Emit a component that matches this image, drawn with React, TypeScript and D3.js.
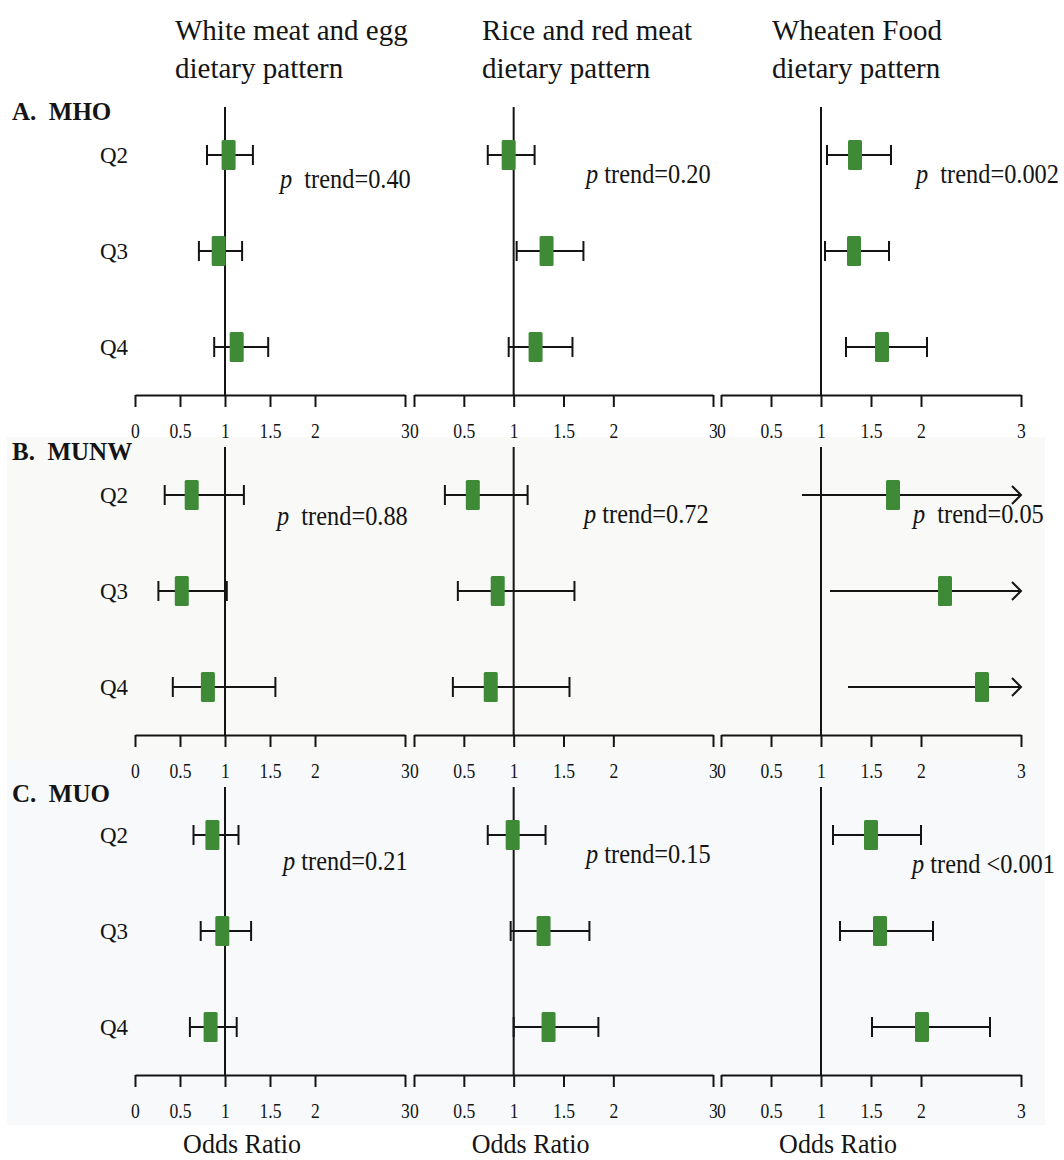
import React, { useEffect, useRef } from "react";
import * as d3 from "d3";

const patterns = ["White meat and egg", "Rice and red meat", "Wheaten Food"];
const groups = ["A.  MHO", "B.  MUNW", "C.  MUO"];
const quartiles = ["Q2", "Q3", "Q4"];
const tickValues = [0, 0.5, 1, 1.5, 2, 3];

// odds ratios per pattern (outer) and quartile Q2..Q4 (inner)
const mhoOR = [[1.04, 0.93, 1.13], [0.95, 1.33, 1.22], [1.34, 1.33, 1.61]];
const mhoLow = [[0.80, 0.71, 0.88], [0.74, 1.03, 0.95], [1.06, 1.04, 1.25]];
const mhoHigh = [[1.31, 1.19, 1.48], [1.21, 1.70, 1.59], [1.70, 1.68, 2.06]];

const munwOR = [[0.63, 0.52, 0.81], [0.59, 0.84, 0.77], [1.72, 2.24, 2.61]];
const munwLow = [[0.33, 0.26, 0.42], [0.31, 0.44, 0.39], [0.81, 1.09, 1.27]];
// null = upper limit runs off the axis (drawn as arrow)
const munwHigh = [[1.21, 1.02, 1.56], [1.14, 1.61, 1.56], [null, null, null]];

const muoOR = [[0.86, 0.97, 0.84], [0.99, 1.30, 1.35], [1.50, 1.59, 2.01]];
const muoLow = [[0.65, 0.73, 0.61], [0.74, 0.97, 1.00], [1.12, 1.19, 1.51]];
const muoHigh = [[1.15, 1.29, 1.13], [1.32, 1.76, 1.85], [2.00, 2.12, 2.69]];

const pTrends = [
  ["  trend=0.40", " trend=0.20", "  trend=0.002"],
  ["  trend=0.88", " trend=0.72", "  trend=0.05"],
  [" trend=0.21", " trend=0.15", " trend <0.001"],
];

const groupData = [
  { or: mhoOR, lo: mhoLow, hi: mhoHigh },
  { or: munwOR, lo: munwLow, hi: munwHigh },
  { or: muoOR, lo: muoLow, hi: muoHigh },
];

// layout
const colRanges = [[135, 405], [414, 713], [721, 1021]];
const panelTops = [107, 447, 787];
const panelH = 288;
const titleX = [175, 482, 772];
const labelBase = [120, 460, 802];
const pPos = [
  [[280, 188], [586, 183], [916, 183]],
  [[277, 525], [584, 523], [913, 523]],
  [[283, 870], [586, 863], [912, 873]],
];
const serif = "'Liberation Serif', 'Times New Roman', serif";
const green = "#3e8a37";
const ink = "#141414";

const App = () => {
  const ref = useRef<SVGSVGElement>(null);

  useEffect(() => {
    const svg = d3.select(ref.current);
    svg.selectAll("*").remove();

    // faint panel backgrounds
    svg.append("rect").attr("x", 7).attr("y", 437).attr("width", 1038).attr("height", 323).attr("fill", "#f9faf8");
    svg.append("rect").attr("x", 7).attr("y", 760).attr("width", 1038).attr("height", 365).attr("fill", "#f7f9fb");

    const xScales = colRanges.map((r) => d3.scaleLinear().domain([0, 3]).range(r));

    // column titles
    patterns.forEach((p, c) => {
      const t = svg.append("text").attr("font-family", serif).attr("font-size", 29).attr("fill", ink);
      t.append("tspan").attr("x", titleX[c]).attr("y", 40).text(p);
      t.append("tspan").attr("x", titleX[c]).attr("y", 78).text("dietary pattern");
    });

    groups.forEach((g, r) => {
      const top = panelTops[r];
      const yBand = d3.scaleBand().domain(quartiles).range([top, top + panelH]);
      const yc = (q) => yBand(q) + yBand.bandwidth() / 2;
      const axisY = top + panelH;

      svg.append("text")
        .attr("x", 12).attr("y", labelBase[r])
        .attr("font-family", serif).attr("font-size", 25).attr("font-weight", "bold")
        .attr("fill", ink).style("white-space", "pre")
        .text(g);

      quartiles.forEach((q) => {
        svg.append("text")
          .attr("x", 128).attr("y", yc(q) + 8)
          .attr("text-anchor", "end")
          .attr("font-family", serif).attr("font-size", 23).attr("fill", ink)
          .text(q);
      });

      xScales.forEach((x, c) => {
        const d = groupData[r];
        // axis
        const ax = svg.append("g")
          .attr("transform", `translate(0,${axisY})`)
          .call(d3.axisBottom(x).tickValues(tickValues).tickSize(12).tickSizeOuter(0).tickPadding(15).tickFormat((v) => String(v)));
        ax.attr("font-family", serif).attr("font-size", 22).attr("color", ink);
        ax.selectAll("path,line").attr("stroke-width", 2);
        ax.selectAll("text").attr("transform", "scale(0.8,1)");

        // reference line at OR = 1
        svg.append("line")
          .attr("x1", x(1)).attr("x2", x(1))
          .attr("y1", top).attr("y2", axisY)
          .attr("stroke", ink).attr("stroke-width", 2);

        quartiles.forEach((q, i) => {
          const y = yc(q);
          const lo = d.lo[c][i];
          const hi = d.hi[c][i];
          const open = hi == null;
          const xHi = open ? x(3) : x(hi);
          svg.append("line")
            .attr("x1", x(lo)).attr("x2", xHi).attr("y1", y).attr("y2", y)
            .attr("stroke", ink).attr("stroke-width", 2);
          if (open) {
            svg.append("path")
              .attr("d", `M${xHi - 9},${y - 9}L${xHi},${y}L${xHi - 9},${y + 9}`)
              .attr("fill", "none").attr("stroke", ink).attr("stroke-width", 2);
          } else {
            [lo, hi].forEach((v) => {
              svg.append("line")
                .attr("x1", x(v)).attr("x2", x(v)).attr("y1", y - 10).attr("y2", y + 10)
                .attr("stroke", ink).attr("stroke-width", 2);
            });
          }
          svg.append("rect")
            .attr("x", x(d.or[c][i]) - 7).attr("y", y - 15)
            .attr("width", 14).attr("height", 30).attr("rx", 1.5)
            .attr("fill", green);
        });

        // p trend
        const [px, py] = pPos[r][c];
        const pt = svg.append("text")
          .attr("transform", `translate(${px},${py}) scale(0.87,1)`)
          .attr("font-family", serif).attr("font-size", 28).attr("fill", ink)
          .style("white-space", "pre");
        pt.append("tspan").attr("font-style", "italic").text("p");
        pt.append("tspan").text(pTrends[r][c]);
      });
    });

    // x-axis titles
    xScales.forEach((x) => {
      svg.append("text")
        .attr("transform", `translate(${x(1) + 17},1153) scale(0.93,1)`)
        .attr("text-anchor", "middle")
        .attr("font-family", serif).attr("font-size", 28).attr("fill", ink)
        .text("Odds Ratio");
    });
  }, []);

  return (
    <svg
      ref={ref}
      width={1064}
      height={1160}
      style={{ position: "absolute", left: 0, top: 0, background: "#fff" }}
    />
  );
};

export default App;
